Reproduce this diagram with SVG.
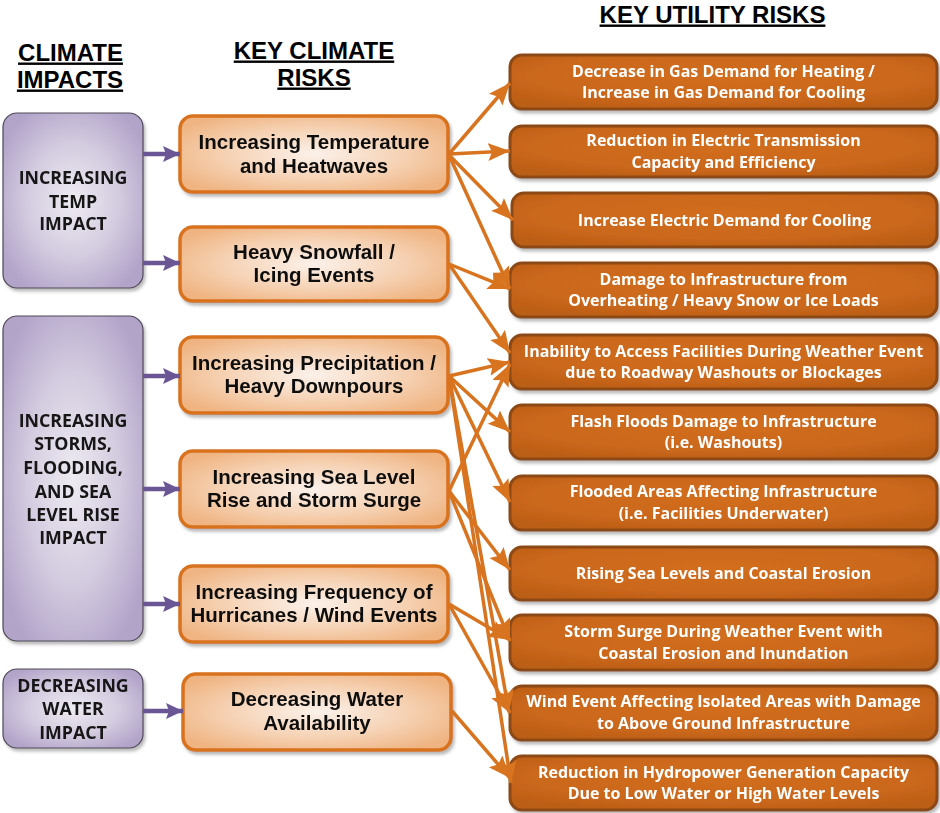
<svg xmlns="http://www.w3.org/2000/svg" width="940" height="813" viewBox="0 0 940 813">
<defs>
<radialGradient id="gP" cx="50%" cy="50%" r="60%">
<stop offset="0" stop-color="#EEEBF2"/><stop offset="0.55" stop-color="#D3CBDF"/><stop offset="1" stop-color="#B2A3C9"/>
</radialGradient>
<radialGradient id="gM" cx="50%" cy="50%" r="60%">
<stop offset="0" stop-color="#FBF1EA"/><stop offset="0.6" stop-color="#F5CFAF"/><stop offset="1" stop-color="#EFB482"/>
</radialGradient>
<radialGradient id="gR" cx="50%" cy="40%" r="65%">
<stop offset="0" stop-color="#D26E1F"/><stop offset="0.7" stop-color="#CA671B"/><stop offset="1" stop-color="#BC5E17"/>
</radialGradient>
<filter id="sh" x="-10%" y="-10%" width="125%" height="130%">
<feDropShadow dx="2" dy="3" stdDeviation="1.5" flood-color="#777" flood-opacity="0.5"/>
</filter>
<marker id="ao" markerUnits="userSpaceOnUse" markerWidth="24" markerHeight="20" refX="22" refY="9" orient="auto">
<path d="M0,0 L22,9 L0,18 L4,9 Z" fill="#D8731F"/>
</marker>
<marker id="ap" markerUnits="userSpaceOnUse" markerWidth="20" markerHeight="18" refX="17" refY="8" orient="auto">
<path d="M0,0 L17,8 L0,16 L3,8 Z" fill="#6A5595"/>
</marker>
<style>
.hd{font-family:"Liberation Sans",Arial,sans-serif;font-weight:bold;font-size:24px;fill:#000;text-decoration:underline;text-anchor:middle}
.pb{fill:url(#gP);stroke:#4F4A57;stroke-width:1.2}
.pt{font-family:"Open Sans","Noto Sans",sans-serif;font-weight:bold;font-size:17.8px;fill:#151515;text-anchor:middle}
.mb{fill:url(#gM);stroke:#D9721F;stroke-width:3.5}
.mt{font-family:"Liberation Sans",Arial,sans-serif;font-weight:bold;font-size:20.5px;fill:#111;text-anchor:middle}
.rb{fill:url(#gR);stroke:#8C4A15;stroke-width:3}
.rt{font-family:"Open Sans","Noto Sans",sans-serif;font-weight:bold;font-size:16px;fill:#fff;text-anchor:middle}
.co{stroke:#D8731F;stroke-width:3.5;fill:none;marker-end:url(#ao)}
.cp{stroke:#6A5595;stroke-width:4.5;fill:none;marker-end:url(#ap)}
</style>
</defs>
<rect width="940" height="813" fill="#fff"/>

<g id="headers">
<text class="hd" x="70.5" y="60.5">CLIMATE</text>
<text class="hd" x="70" y="87.5">IMPACTS</text>
<text class="hd" x="314" y="58.5">KEY CLIMATE</text>
<text class="hd" x="314" y="85.5">RISKS</text>
<text class="hd" x="712.5" y="22.5">KEY UTILITY RISKS</text>
</g>

<g id="impact-temp" filter="url(#sh)">
<rect class="pb" x="3" y="113" width="140" height="175" rx="14"/>
<text class="pt" x="73" y="183.5">INCREASING</text>
<text class="pt" x="73" y="207.5">TEMP</text>
<text class="pt" x="73" y="229.5">IMPACT</text>
</g>
<g id="impact-storms" filter="url(#sh)">
<rect class="pb" x="3" y="316" width="140" height="325" rx="14"/>
<text class="pt" x="73" y="426.5">INCREASING</text>
<text class="pt" x="73" y="449.5">STORMS,</text>
<text class="pt" x="73" y="473.5">FLOODING,</text>
<text class="pt" x="73" y="497.5">AND SEA</text>
<text class="pt" x="73" y="520.5">LEVEL RISE</text>
<text class="pt" x="73" y="543.5">IMPACT</text>
</g>
<g id="impact-water" filter="url(#sh)">
<rect class="pb" x="3" y="669" width="140" height="79" rx="14"/>
<text class="pt" x="73" y="691.5">DECREASING</text>
<text class="pt" x="73" y="714.5">WATER</text>
<text class="pt" x="73" y="738.5">IMPACT</text>
</g>

<g id="risk-temp" filter="url(#sh)">
<rect class="mb" x="180" y="116" width="268" height="76" rx="13"/>
<text class="mt" x="314" y="149">Increasing Temperature</text>
<text class="mt" x="314" y="173">and Heatwaves</text>
</g>
<g id="risk-snow" filter="url(#sh)">
<rect class="mb" x="180" y="227" width="268" height="74" rx="13"/>
<text class="mt" x="314" y="259">Heavy Snowfall /</text>
<text class="mt" x="314" y="282">Icing Events</text>
</g>
<g id="risk-precip" filter="url(#sh)">
<rect class="mb" x="180" y="337" width="268" height="76" rx="13"/>
<text class="mt" x="314" y="370">Increasing Precipitation /</text>
<text class="mt" x="314" y="393">Heavy Downpours</text>
</g>
<g id="risk-sea" filter="url(#sh)">
<rect class="mb" x="180" y="451" width="268" height="76" rx="13"/>
<text class="mt" x="314" y="484">Increasing Sea Level</text>
<text class="mt" x="314" y="507">Rise and Storm Surge</text>
</g>
<g id="risk-hurricane" filter="url(#sh)">
<rect class="mb" x="180" y="566" width="268" height="76" rx="13"/>
<text class="mt" x="314" y="599">Increasing Frequency of</text>
<text class="mt" x="314" y="622">Hurricanes / Wind Events</text>
</g>
<g id="risk-water" filter="url(#sh)">
<rect class="mb" x="183" y="674" width="268" height="76" rx="13"/>
<text class="mt" x="317" y="706">Decreasing Water</text>
<text class="mt" x="317" y="730">Availability</text>
</g>

<g id="util-1" filter="url(#sh)">
<rect class="rb" x="510" y="55" width="427" height="54" rx="12"/>
<text class="rt" x="723.5" y="77">Decrease in Gas Demand for Heating /</text>
<text class="rt" x="723.5" y="98">Increase in Gas Demand for Cooling</text>
</g>
<g id="util-2" filter="url(#sh)">
<rect class="rb" x="510" y="126" width="427" height="51" rx="12"/>
<text class="rt" x="723.5" y="146">Reduction in Electric Transmission</text>
<text class="rt" x="723.5" y="168">Capacity and Efficiency</text>
</g>
<g id="util-3" filter="url(#sh)">
<rect class="rb" x="512" y="193" width="425" height="54" rx="12"/>
<text class="rt" x="724.5" y="225.5">Increase Electric Demand for Cooling</text>
</g>
<g id="util-4" filter="url(#sh)">
<rect class="rb" x="510" y="263" width="427" height="54" rx="12"/>
<text class="rt" x="723.5" y="285">Damage to Infrastructure from</text>
<text class="rt" x="723.5" y="306">Overheating / Heavy Snow or Ice Loads</text>
</g>
<g id="util-5" filter="url(#sh)">
<rect class="rb" x="510" y="335" width="427" height="54" rx="12"/>
<text class="rt" x="723.5" y="357">Inability to Access Facilities During Weather Event</text>
<text class="rt" x="723.5" y="378">due to Roadway Washouts or Blockages</text>
</g>
<g id="util-6" filter="url(#sh)">
<rect class="rb" x="510" y="405" width="427" height="54" rx="12"/>
<text class="rt" x="723.5" y="427">Flash Floods Damage to Infrastructure</text>
<text class="rt" x="723.5" y="448">(i.e. Washouts)</text>
</g>
<g id="util-7" filter="url(#sh)">
<rect class="rb" x="510" y="476" width="427" height="54" rx="12"/>
<text class="rt" x="723.5" y="497">Flooded Areas Affecting Infrastructure</text>
<text class="rt" x="723.5" y="519">(i.e. Facilities Underwater)</text>
</g>
<g id="util-8" filter="url(#sh)">
<rect class="rb" x="510" y="547" width="427" height="53" rx="12"/>
<text class="rt" x="723.5" y="578.5">Rising Sea Levels and Coastal Erosion</text>
</g>
<g id="util-9" filter="url(#sh)">
<rect class="rb" x="510" y="615" width="427" height="55" rx="12"/>
<text class="rt" x="723.5" y="637">Storm Surge During Weather Event with</text>
<text class="rt" x="723.5" y="659">Coastal Erosion and Inundation</text>
</g>
<g id="util-10" filter="url(#sh)">
<rect class="rb" x="510" y="686" width="427" height="54" rx="12"/>
<text class="rt" x="723.5" y="707">Wind Event Affecting Isolated Areas with Damage</text>
<text class="rt" x="723.5" y="729">to Above Ground Infrastructure</text>
</g>
<g id="util-11" filter="url(#sh)">
<rect class="rb" x="510" y="756" width="427" height="54" rx="12"/>
<text class="rt" x="723.5" y="778">Reduction in Hydropower Generation Capacity</text>
<text class="rt" x="723.5" y="799">Due to Low Water or High Water Levels</text>
</g>

<g id="connectors">
<line class="cp" x1="143" y1="154" x2="180" y2="154"/>
<line class="cp" x1="143" y1="263" x2="180" y2="263"/>
<line class="cp" x1="143" y1="376" x2="180" y2="376"/>
<line class="cp" x1="143" y1="489" x2="180" y2="489"/>
<line class="cp" x1="143" y1="604" x2="180" y2="604"/>
<line class="cp" x1="143" y1="711" x2="183" y2="711"/>

<line class="co" x1="449" y1="154" x2="510" y2="83"/>
<line class="co" x1="449" y1="154" x2="510" y2="151"/>
<line class="co" x1="449" y1="155" x2="513" y2="220"/>
<line class="co" x1="449" y1="155" x2="510" y2="289"/>
<line class="co" x1="449" y1="264" x2="510" y2="289"/>
<line class="co" x1="449" y1="264" x2="510" y2="353"/>
<line class="co" x1="449" y1="376" x2="510" y2="362"/>
<line class="co" x1="449" y1="376" x2="510" y2="432"/>
<line class="co" x1="449" y1="376" x2="510" y2="502"/>
<line class="co" x1="449" y1="376" x2="509" y2="712"/>
<line class="co" x1="449" y1="376" x2="511" y2="783"/>
<line class="co" x1="449" y1="491" x2="510" y2="364"/>
<line class="co" x1="449" y1="491" x2="510" y2="570"/>
<line class="co" x1="449" y1="491" x2="510" y2="641"/>
<line class="co" x1="449" y1="604" x2="510" y2="640"/>
<line class="co" x1="449" y1="604" x2="510" y2="713"/>
<line class="co" x1="452" y1="711" x2="510" y2="778"/>
</g>
</svg>
